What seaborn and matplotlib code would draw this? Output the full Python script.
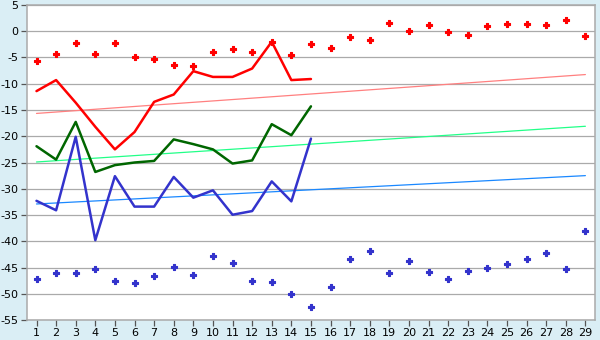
import matplotlib
matplotlib.use("Agg")
import matplotlib.pyplot as plt
import seaborn as sns
import numpy as np
import pandas as pd

categories = list(range(1, 30))

red_points = [-5.75, -4.42, -2.31, -4.42, -2.31, -5.0, -5.37, -6.5, -6.7, -4.03,
              -3.46, -4.03, -2.0, -4.6, -2.5, -3.27, -1.17, -1.74, 1.5, 0.0,
              1.12, -0.2, -0.78, 0.93, 1.3, 1.3, 1.12, 2.08, -0.97]
blue_points = [-47.2, -46.0, -46.0, -45.25, -47.5, -47.9, -46.6, -44.9, -46.4, -42.8,
               -44.1, -47.5, -47.7, -50.0, -52.5, -48.7, -43.3, -41.8, -46.0, -43.7,
               -45.8, -47.2, -45.6, -45.05, -44.3, -43.3, -42.2, -45.25, -38.0]

line_cats = list(range(1, 16))
red_line = [-11.4, -9.3, -13.6, -18.2, -22.5, -19.2, -13.45, -12.05, -7.6, -8.7,
            -8.7, -7.1, -2.0, -9.3, -9.1]
green_line = [-21.9, -24.45, -17.27, -26.8, -25.5, -25.0, -24.7, -20.6, -21.5, -22.5,
              -25.2, -24.6, -17.7, -19.8, -14.3]
blue_line = [-32.3, -34.1, -20.1, -39.8, -27.6, -33.4, -33.4, -27.75, -31.7, -30.3,
             -34.95, -34.25, -28.6, -32.4, -20.45]

trend_cats = [1, 29]
red_trend = [-15.65, -8.25]
green_trend = [-24.9, -18.1]
blue_trend = [-32.9, -27.5]

bg = "#daeef5"
sns.set_theme(style="white")
plt.rcParams['font.family'] = ['DejaVu Sans']

fig = plt.figure(figsize=(6, 3.4), dpi=100, facecolor=bg)
ax = fig.add_axes([0.0445, 0.0588, 0.9475, 0.9265])
ax.set_facecolor("white")

for v in range(-55, 6, 5):
    ax.axhline(v, color="#aaaaaa", lw=0.9, zorder=0)

# trend lines
for vals, col in [(red_trend, "#ff8080"), (green_trend, "#22ff88"), (blue_trend, "#1a88ff")]:
    df = pd.DataFrame({"x": trend_cats, "y": vals})
    sns.lineplot(data=df, x="x", y="y", ax=ax, color=col, lw=0.9, zorder=2)

# main lines
for vals, col in [(red_line, "#ff0000"), (green_line, "#006600"), (blue_line, "#3333cc")]:
    df = pd.DataFrame({"x": line_cats, "y": vals})
    sns.lineplot(data=df, x="x", y="y", ax=ax, color=col, lw=1.8, zorder=3)

# scatter points
for vals, col in [(red_points, "#ff0000"), (blue_points, "#3333cc")]:
    df = pd.DataFrame({"x": categories, "y": vals})
    sns.scatterplot(data=df, x="x", y="y", ax=ax, color=col, marker="P", s=20,
                    edgecolor=col, linewidth=0.8, zorder=4)

ax.set_xlim(0.5, 29.5)
ax.set_ylim(-55, 5)
ax.set_xticks(categories)
ax.set_xticklabels([str(c) for c in categories])
ax.set_yticks(list(range(-55, 6, 5)))
ax.set_yticklabels([str(v) for v in range(-55, 6, 5)])
ax.set_xlabel("")
ax.set_ylabel("")
ax.tick_params(axis="both", which="both", labelsize=8, colors="#555555",
               labelcolor="black", length=4, width=0.9, direction="out", pad=2)
ax.tick_params(left=True, bottom=True)
for side in ["left", "bottom", "right", "top"]:
    ax.spines[side].set_color("#aaaaaa")
    ax.spines[side].set_linewidth(1.1)

fig.savefig("out.png", dpi=100, facecolor=bg)
